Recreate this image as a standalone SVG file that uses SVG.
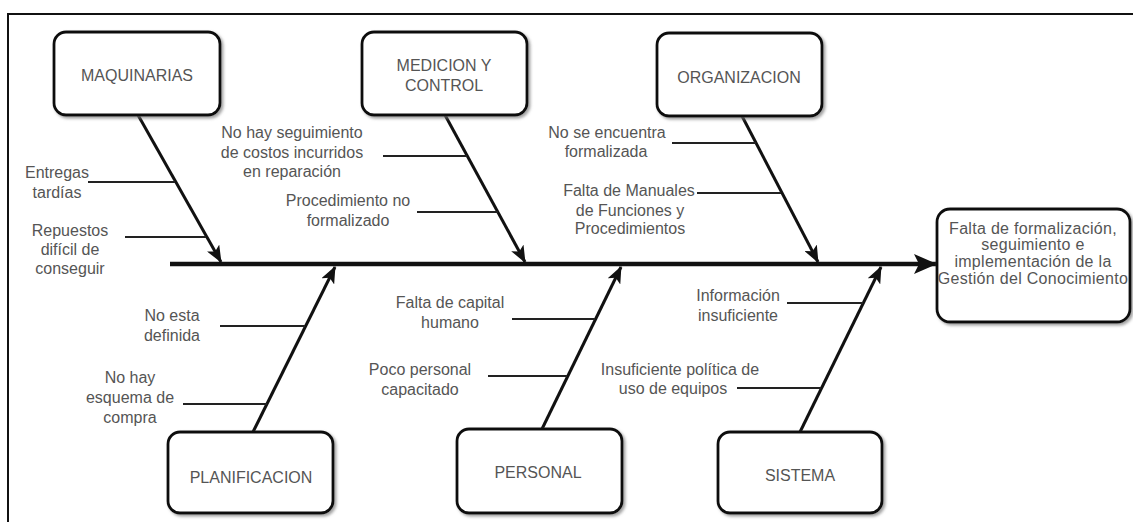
<svg xmlns="http://www.w3.org/2000/svg" width="1133" height="522" viewBox="0 0 1133 522">
  <style>
    .frame { fill: none; stroke: #111; stroke-width: 2; }
    .box { fill: #fff; stroke: #111; stroke-width: 2.8; filter: url(#shadow); }
    .bone { fill: none; stroke: #111; stroke-width: 3; }
    .spine { fill: none; stroke: #111; stroke-width: 4.5; }
    .twig { fill: none; stroke: #222; stroke-width: 2.2; }
    text { font-family: "Liberation Sans", Arial, sans-serif; font-size: 16px; fill: #555; text-anchor: middle; }
    .effect-text { letter-spacing: 0.3px; }
  </style>
  <defs>
    <filter id="shadow" x="-10%" y="-10%" width="125%" height="130%">
      <feDropShadow dx="2" dy="2" stdDeviation="1.5" flood-color="#777" flood-opacity="0.7"/>
    </filter>
    <marker id="head" markerUnits="userSpaceOnUse" markerWidth="18" markerHeight="14" refX="16" refY="7" orient="auto">
      <path d="M0,0 L17,7 L0,14 L4,7 z" fill="#111"/>
    </marker>
    <marker id="headBig" markerUnits="userSpaceOnUse" markerWidth="24" markerHeight="20" refX="22" refY="10" orient="auto">
      <path d="M0,0 L23,10 L0,20 L5,10 z" fill="#111"/>
    </marker>
  </defs>

  <rect width="1133" height="522" fill="#fff"/>
  <!-- page border (right and bottom sides fall outside the canvas) -->
  <rect class="frame" x="8" y="14" width="1140" height="520"/>

  <!-- connectors: spine, bones and twigs -->
  <g id="connectors">
    <line class="spine" x1="170" y1="264" x2="936" y2="264" marker-end="url(#headBig)"/>
    <line class="bone" x1="138" y1="115" x2="221" y2="262" marker-end="url(#head)"/>
    <line class="bone" x1="445" y1="115" x2="525" y2="262" marker-end="url(#head)"/>
    <line class="bone" x1="742" y1="116" x2="818" y2="262" marker-end="url(#head)"/>
    <line class="bone" x1="253" y1="432" x2="335" y2="267" marker-end="url(#head)"/>
    <line class="bone" x1="542" y1="429" x2="621" y2="267" marker-end="url(#head)"/>
    <line class="bone" x1="800" y1="432" x2="881" y2="267" marker-end="url(#head)"/>

    <line class="twig" x1="88" y1="182" x2="175" y2="182"/>
    <line class="twig" x1="125" y1="237" x2="206" y2="237"/>
    <line class="twig" x1="383" y1="156" x2="467" y2="156"/>
    <line class="twig" x1="417" y1="212" x2="498" y2="212"/>
    <line class="twig" x1="672" y1="143" x2="756" y2="143"/>
    <line class="twig" x1="697" y1="193" x2="781" y2="193"/>
    <line class="twig" x1="220" y1="326" x2="305" y2="326"/>
    <line class="twig" x1="183" y1="404" x2="267" y2="404"/>
    <line class="twig" x1="512" y1="319" x2="595" y2="319"/>
    <line class="twig" x1="488" y1="376" x2="567" y2="376"/>
    <line class="twig" x1="787" y1="303" x2="863" y2="303"/>
    <line class="twig" x1="737" y1="388" x2="821" y2="388"/>
  </g>

  <!-- category boxes -->
  <g id="maquinarias">
    <rect class="box" x="54" y="32" width="166" height="83" rx="12"/>
    <text x="137" y="81">MAQUINARIAS</text>
  </g>
  <g id="medicion-control">
    <rect class="box" x="362" y="32" width="165" height="83" rx="12"/>
    <text x="444" y="71">MEDICION Y</text>
    <text x="444" y="91">CONTROL</text>
  </g>
  <g id="organizacion">
    <rect class="box" x="657" y="33" width="165" height="83" rx="12"/>
    <text x="739" y="83">ORGANIZACION</text>
  </g>
  <g id="planificacion">
    <rect class="box" x="168" y="432" width="165" height="81" rx="12"/>
    <text x="251" y="483">PLANIFICACION</text>
  </g>
  <g id="personal">
    <rect class="box" x="457" y="429" width="165" height="84" rx="12"/>
    <text x="538" y="478">PERSONAL</text>
  </g>
  <g id="sistema">
    <rect class="box" x="718" y="432" width="164" height="81" rx="12"/>
    <text x="800" y="481">SISTEMA</text>
  </g>

  <!-- effect -->
  <g id="efecto">
    <rect class="box" x="937" y="209" width="193" height="113" rx="13"/>
    <text class="effect-text" x="1033" y="234">Falta de formalización,</text>
    <text class="effect-text" x="1033" y="250">seguimiento e</text>
    <text class="effect-text" x="1033" y="267">implementación de la</text>
    <text class="effect-text" x="1033" y="284">Gestión del Conocimiento</text>
  </g>

  <!-- causes -->
  <g id="causas">
    <text x="57" y="178">Entregas</text>
    <text x="57" y="198">tardías</text>
    <text x="70" y="236">Repuestos</text>
    <text x="70" y="255">difícil de</text>
    <text x="70" y="274">conseguir</text>

    <text x="292" y="138">No hay seguimiento</text>
    <text x="292" y="158">de costos incurridos</text>
    <text x="292" y="177">en reparación</text>
    <text x="348" y="206">Procedimiento no</text>
    <text x="348" y="226">formalizado</text>

    <text x="607" y="138">No se encuentra</text>
    <text x="606" y="157">formalizada</text>
    <text x="629" y="196">Falta de Manuales</text>
    <text x="630" y="216">de Funciones y</text>
    <text x="630" y="234">Procedimientos</text>

    <text x="172" y="321">No esta</text>
    <text x="172" y="341">definida</text>
    <text x="130" y="383">No hay</text>
    <text x="130" y="403">esquema de</text>
    <text x="130" y="423">compra</text>

    <text x="450" y="308">Falta de capital</text>
    <text x="450" y="328">humano</text>
    <text x="420" y="375">Poco personal</text>
    <text x="420" y="395">capacitado</text>

    <text x="738" y="301">Información</text>
    <text x="738" y="321">insuficiente</text>
    <text x="680" y="375">Insuficiente política de</text>
    <text x="673" y="394">uso de equipos</text>
  </g>
</svg>
